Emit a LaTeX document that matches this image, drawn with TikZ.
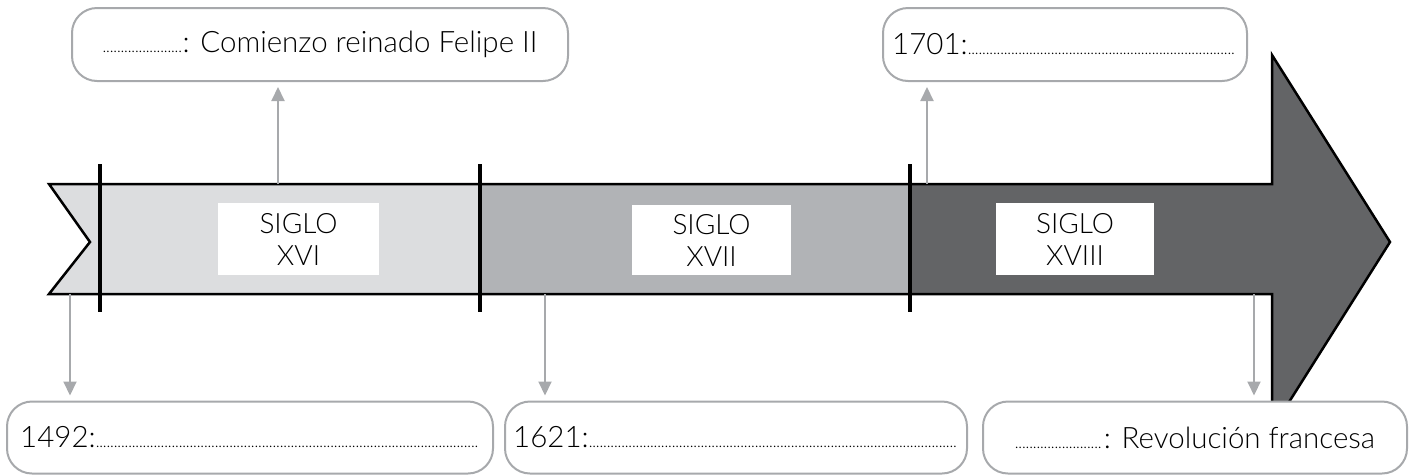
\documentclass[tikz,border=0pt]{standalone}
\usepackage{fontspec}
\setmainfont{Lato Light}
\usetikzlibrary{arrows.meta}
\definecolor{cone}{HTML}{DCDDDF}
\definecolor{ctwo}{HTML}{B1B3B6}
\definecolor{cthree}{HTML}{636466}
\definecolor{glin}{HTML}{A7A9AC}
\newcommand\fillerdots[1]{{\fontsize{16}{16}\selectfont\leaders\hbox to 3.6pt{\hss.\hss}\hskip #1pt\null}}
\tikzset{
  sigbox/.style={fill=white, inner sep=0pt, minimum height=72pt, align=center, font=\fontsize{28}{32}\selectfont},
  evbox/.style={draw=glin, line width=2pt, rounded corners=25pt, fill=white, inner sep=0pt, minimum height=72pt, font=\fontsize{29.5}{36}\selectfont},
  conn/.style={draw=glin, line width=2pt, -{Triangle[length=14pt,width=13pt]}, shorten >=5pt},
  bar/.style={line width=4pt, black}
}
\begin{document}
\begin{tikzpicture}[x=1pt,y=-1pt]
\useasboundingbox (0,0) rectangle (1414,475);
% big arrow
\fill[cone] (49,184) -- (480,184) -- (480,294) -- (49,294) -- (90,242) -- cycle;
\fill[ctwo] (480,184) rectangle (910,294);
\fill[cthree] (910,184) -- (1272,184) -- (1272,55) -- (1390,242) -- (1272,429) -- (1272,294) -- (910,294) -- cycle;
\draw[black, line width=2.5pt, line join=miter] (49,184) -- (1272,184) -- (1272,55) -- (1390,242) -- (1272,429) -- (1272,294) -- (49,294) -- (90,242) -- cycle;
\draw[bar] (100,164) -- (100,312);
\draw[bar] (480,164) -- (480,312);
\draw[bar] (910,164) -- (910,312);
% century labels
\node[sigbox, minimum width=161pt] (s16) at (298.5,239) {SIGLO\\XVI};
\node[sigbox, minimum width=159pt, minimum height=70pt] (s17) at (711.5,240) {SIGLO\\XVII};
\node[sigbox, minimum width=158pt] (s18) at (1075,239) {SIGLO\\XVIII};
% event boxes
\node[evbox, minimum width=496pt, minimum height=73pt] (t1) at (320,44.5) {\fillerdots{80}: Comienzo reinado Felipe II};
\node[evbox, minimum width=364pt, minimum height=73pt] (t2) at (1065,44.5) {1701:\fillerdots{270}};
\node[evbox, minimum width=486pt] (b1) at (250,437.5) {1492:\fillerdots{384}};
\node[evbox, minimum width=462pt] (b2) at (736,437.5) {1621:\fillerdots{370}};
\node[evbox, minimum width=424pt] (b3) at (1195,437.5) {\fillerdots{89}: Revolución francesa};
% connectors
\coordinate (u1) at (278,184);
\coordinate (u2) at (927,184);
\coordinate (d1) at (70,294);
\coordinate (d2) at (545,294);
\coordinate (d3) at (1254,294);
\draw[conn] (u1) -- (u1 |- t1.south);
\draw[conn] (u2) -- (u2 |- t2.south);
\draw[conn] (d1) -- (d1 |- b1.north);
\draw[conn] (d2) -- (d2 |- b2.north);
\draw[conn] (d3) -- (d3 |- b3.north);
\end{tikzpicture}
\end{document}
